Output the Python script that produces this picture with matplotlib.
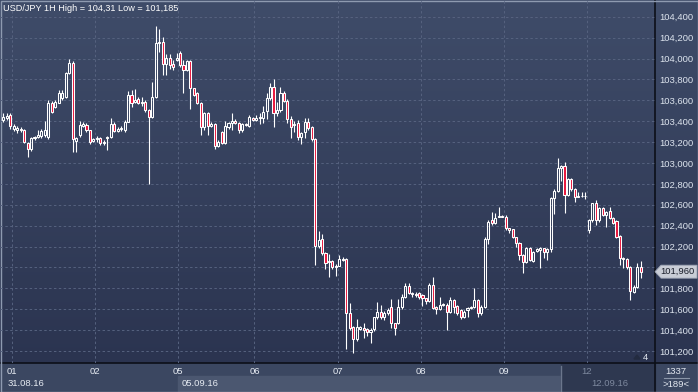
import numpy as np
import matplotlib
matplotlib.use("Agg")
import matplotlib.pyplot as plt
from matplotlib.colors import LinearSegmentedColormap
from matplotlib.patches import Rectangle, Polygon
from matplotlib.transforms import blended_transform_factory

plt.rcParams['font.family'] = ['Liberation Sans', 'DejaVu Sans']

# ---------------- data ----------------
symbol = "USD/JPY 1H"
day_labels = ["01", "02", "05", "06", "07", "08", "09", "12"]
day_bounds = [2.5, 26.5, 50.5, 72.5, 96.5, 120.5, 144.5, 168.5]   # bar index where each day starts
date_labels = ["31.08.16", "05.09.16", "12.09.16"]
price_ticks = [101.2, 101.4, 101.6, 101.8, 102.0, 102.2, 102.4, 102.6, 102.8,
               103.0, 103.2, 103.4, 103.6, 103.8, 104.0, 104.2, 104.4]
total_bars = 1337
visible_bars = 189
corner_count = "4"

opens = [
    103.411, 103.427, 103.459, 103.328, 103.315, 103.330, 103.315, 103.194, 103.130, 103.236,
    103.250, 103.258, 103.268, 103.245, 103.577, 103.539, 103.577, 103.619, 103.634, 103.858,
    103.960, 103.214, 103.268, 103.354, 103.363, 103.315, 103.213, 103.226, 103.236, 103.190,
    103.236, 103.245, 103.373, 103.309, 103.325, 103.315, 103.395, 103.650, 103.586, 103.609,
    103.570, 103.586, 103.507, 103.443, 103.634, 104.151, 104.161, 103.944, 104.008, 103.944,
    103.990, 104.055, 103.938, 103.890, 103.976, 103.714, 103.666, 103.570, 103.347, 103.475,
    103.354, 103.373, 103.162, 103.300, 103.194, 103.340, 103.380, 103.400, 103.385, 103.315,
    103.370, 103.354, 103.430, 103.410, 103.427, 103.427, 103.500, 103.619, 103.724, 103.482,
    103.507, 103.673, 103.597, 103.418, 103.360, 103.386, 103.252, 103.300, 103.396, 103.341,
    103.227, 102.206, 102.270, 102.136, 102.056, 102.062, 102.008, 102.018, 102.072, 102.078,
    101.568, 101.434, 101.313, 101.408, 101.418, 101.408, 101.386, 101.408, 101.523, 101.577,
    101.530, 101.568, 101.619, 101.466, 101.472, 101.619, 101.721, 101.823, 101.760, 101.750,
    101.753, 101.737, 101.705, 101.683, 101.833, 101.626, 101.600, 101.642, 101.642, 101.577,
    101.689, 101.632, 101.593, 101.530, 101.593, 101.609, 101.625, 101.689, 101.568, 101.625,
    102.270, 102.455, 102.430, 102.487, 102.493, 102.487, 102.375, 102.365, 102.288, 102.231,
    102.119, 102.055, 102.189, 102.065, 102.160, 102.167, 102.183, 102.151, 102.177, 102.661,
    102.732, 102.949, 102.971, 102.693, 102.843, 102.748, 102.677, 102.687, 102.680, 102.358,
    102.454, 102.614, 102.454, 102.566, 102.502, 102.540, 102.470, 102.448, 102.301, 102.087,
    102.078, 102.001, 101.768, 101.816, 102.001,
]
highs = [
    103.475, 103.481, 103.475, 103.370, 103.350, 103.345, 103.330, 103.200, 103.245, 103.260,
    103.315, 103.330, 103.405, 103.600, 103.590, 103.600, 103.700, 103.700, 103.870, 103.991,
    103.980, 103.250, 103.405, 103.390, 103.380, 103.320, 103.240, 103.260, 103.250, 103.220,
    103.260, 103.427, 103.390, 103.340, 103.350, 103.410, 103.690, 103.698, 103.705, 103.630,
    103.628, 103.600, 103.520, 103.778, 104.310, 104.279, 104.209, 104.040, 104.040, 103.990,
    104.050, 104.075, 103.985, 103.990, 103.990, 103.720, 103.680, 103.580, 103.490, 103.490,
    103.390, 103.380, 103.220, 103.310, 103.400, 103.390, 103.475, 103.420, 103.390, 103.380,
    103.385, 103.460, 103.440, 103.460, 103.475, 103.545, 103.667, 103.762, 103.800, 103.587,
    103.724, 103.690, 103.610, 103.450, 103.400, 103.412, 103.300, 103.427, 103.434, 103.350,
    103.235, 102.350, 102.320, 102.150, 102.126, 102.070, 102.030, 102.120, 102.104, 102.090,
    101.657, 101.440, 101.504, 101.440, 101.466, 101.420, 101.420, 101.530, 101.667, 101.640,
    101.580, 101.610, 101.695, 101.470, 101.695, 101.746, 101.848, 101.848, 101.770, 101.770,
    101.770, 101.750, 101.710, 101.850, 101.906, 101.630, 101.721, 101.660, 101.660, 101.721,
    101.700, 101.640, 101.600, 101.590, 101.620, 101.630, 101.800, 101.700, 101.640, 102.289,
    102.450, 102.534, 102.520, 102.576, 102.500, 102.500, 102.380, 102.370, 102.290, 102.240,
    102.130, 102.200, 102.200, 102.160, 102.190, 102.200, 102.190, 102.190, 102.670, 102.750,
    103.044, 102.980, 103.012, 102.860, 102.860, 102.760, 102.720, 102.720, 102.720, 102.460,
    102.620, 102.650, 102.580, 102.580, 102.540, 102.582, 102.480, 102.454, 102.310, 102.100,
    102.090, 102.010, 101.830, 102.046, 102.065,
]
lows = [
    103.395, 103.410, 103.330, 103.310, 103.290, 103.300, 103.190, 103.054, 103.118, 103.220,
    103.240, 103.240, 103.250, 103.230, 103.480, 103.530, 103.570, 103.600, 103.620, 103.850,
    103.110, 103.110, 103.250, 103.340, 103.300, 103.180, 103.200, 103.200, 103.170, 103.170,
    103.124, 103.240, 103.300, 103.300, 103.310, 103.300, 103.390, 103.532, 103.570, 103.560,
    103.545, 103.490, 102.795, 103.430, 103.620, 104.065, 103.842, 103.842, 103.900, 103.890,
    103.980, 103.920, 103.673, 103.880, 103.513, 103.640, 103.560, 103.268, 103.315, 103.268,
    103.340, 103.130, 103.150, 103.180, 103.180, 103.330, 103.315, 103.370, 103.283, 103.300,
    103.350, 103.345, 103.400, 103.400, 103.370, 103.380, 103.418, 103.600, 103.341, 103.450,
    103.490, 103.580, 103.380, 103.243, 103.300, 103.220, 103.182, 103.236, 103.320, 103.210,
    102.024, 102.190, 102.120, 101.982, 101.912, 101.990, 101.920, 102.010, 102.060, 101.217,
    101.400, 101.185, 101.300, 101.400, 101.322, 101.340, 101.274, 101.390, 101.510, 101.510,
    101.500, 101.550, 101.418, 101.350, 101.460, 101.600, 101.710, 101.750, 101.715, 101.715,
    101.700, 101.632, 101.650, 101.670, 101.600, 101.555, 101.590, 101.630, 101.400, 101.560,
    101.562, 101.550, 101.504, 101.520, 101.530, 101.600, 101.610, 101.530, 101.550, 101.610,
    102.225, 102.410, 102.420, 102.480, 102.480, 102.360, 102.330, 102.280, 102.200, 102.071,
    101.944, 102.040, 102.060, 102.050, 102.150, 101.992, 102.087, 102.071, 102.151, 102.508,
    102.720, 102.830, 102.518, 102.680, 102.730, 102.630, 102.670, 102.670, 102.660, 102.327,
    102.440, 102.406, 102.440, 102.490, 102.390, 102.460, 102.420, 102.280, 102.020, 101.992,
    101.990, 101.689, 101.753, 101.800, 101.896,
]
closes = [
    103.443, 103.449, 103.354, 103.354, 103.331, 103.315, 103.204, 103.130, 103.236, 103.245,
    103.268, 103.309, 103.315, 103.577, 103.491, 103.587, 103.666, 103.666, 103.864, 103.960,
    103.226, 103.236, 103.363, 103.373, 103.315, 103.204, 103.226, 103.236, 103.188, 103.200,
    103.245, 103.373, 103.309, 103.328, 103.330, 103.395, 103.650, 103.577, 103.602, 103.577,
    103.586, 103.507, 103.443, 103.628, 104.151, 104.161, 103.944, 104.008, 103.938, 103.921,
    104.008, 103.938, 103.890, 103.976, 103.714, 103.650, 103.570, 103.347, 103.475, 103.354,
    103.373, 103.162, 103.200, 103.194, 103.353, 103.385, 103.400, 103.385, 103.315, 103.370,
    103.360, 103.437, 103.410, 103.427, 103.443, 103.491, 103.619, 103.724, 103.475, 103.507,
    103.673, 103.597, 103.418, 103.348, 103.374, 103.252, 103.290, 103.396, 103.338, 103.227,
    102.206, 102.263, 102.136, 102.046, 102.066, 102.008, 102.018, 102.078, 102.078, 101.568,
    101.418, 101.313, 101.434, 101.427, 101.402, 101.386, 101.402, 101.523, 101.577, 101.530,
    101.568, 101.593, 101.466, 101.418, 101.619, 101.721, 101.823, 101.760, 101.746, 101.737,
    101.721, 101.705, 101.683, 101.830, 101.609, 101.600, 101.642, 101.650, 101.577, 101.689,
    101.625, 101.568, 101.523, 101.577, 101.609, 101.620, 101.689, 101.562, 101.625, 102.270,
    102.439, 102.423, 102.470, 102.493, 102.487, 102.375, 102.359, 102.295, 102.231, 102.119,
    102.055, 102.189, 102.071, 102.151, 102.177, 102.189, 102.151, 102.177, 102.661, 102.732,
    102.949, 102.971, 102.693, 102.843, 102.748, 102.677, 102.687, 102.680, 102.687, 102.454,
    102.614, 102.454, 102.566, 102.502, 102.534, 102.470, 102.429, 102.295, 102.087, 102.080,
    102.001, 101.778, 101.816, 102.001, 101.960,
]

# ---------------- figure ----------------
W, H = 698, 392
PLOT_R, PLOT_B = 655, 363
fig = plt.figure(figsize=(W / 100, H / 100), dpi=100)

bg = fig.add_axes([0, 0, 1, 1])
bg.set_xlim(0, W)
bg.set_ylim(H, 0)
bg.axis('off')
cmap = LinearSegmentedColormap.from_list('bg', ['#3f4c69', '#2b3450'])
bg.imshow(np.linspace(0, 1, 256).reshape(-1, 1), cmap=cmap,
          extent=[0, W, PLOT_B, 0], aspect='auto', zorder=0)
# bottom time strip
bg.add_patch(Rectangle((0, PLOT_B), W, H - PLOT_B, color='#3b4761', zorder=1))
bg.add_patch(Rectangle((178, 376), 383, H - 376, color='#4b5770', zorder=1))
bg.add_patch(Rectangle((561, PLOT_B), PLOT_R - 561, H - PLOT_B, color='#2e3850', zorder=2))
bg.plot([561, 561], [366, H], color='#6b768c', lw=1, zorder=3)
# separators
bg.plot([0, W], [PLOT_B, PLOT_B], color='#0c0f18', lw=1.2, zorder=4)
bg.plot([PLOT_R, PLOT_R], [0, H], color='#0c0f18', lw=1.2, zorder=4)
# corner box
bg.text(676, 371, str(total_bars), ha='center', va='center', fontsize=6.8, color='#e3e8f0', zorder=5)
bg.plot([664, 689], [377.5, 377.5], color='#8a95a8', lw=0.8, zorder=5)
bg.text(676, 384.5, f">{visible_bars}<", ha='center', va='center', fontsize=6.8, color='#e3e8f0', zorder=5)
# small count marker
bg.add_patch(Polygon([[634, 359], [640, 359], [637, 355]], closed=True, color='#232b40', zorder=5))
bg.text(645.5, 357, corner_count, ha='center', va='center', fontsize=6.8, color='#e3e8f0', zorder=5)
# outer frame
bg.add_patch(Rectangle((0.5, 0.5), W - 1, H - 1, fill=False, edgecolor='#8e9ab0', lw=1.0, zorder=6))

# ---------------- price axes ----------------
ax = fig.add_axes([0, (H - PLOT_B) / H, PLOT_R / W, PLOT_B / H])
ax.patch.set_alpha(0)
n = len(closes)
ax.set_xlim(-0.964, 188.12)
ax.set_ylim(101.086, 104.56)
for s in ax.spines.values():
    s.set_visible(False)

last = closes[-1]
ax.set_yticks(price_ticks)
# the label hidden behind the last-price tag is left blank
ax.set_yticklabels(["" if abs(v - last) < 0.1 else f"{v:,.3f}".replace('.', ',') for v in price_ticks])
ax.yaxis.tick_right()
ax.set_xticks(day_bounds)
ax.set_xticklabels(day_labels)
ax.tick_params(axis='y', length=0, pad=3, labelsize=6.8, labelcolor='#dde4ee')
ax.tick_params(axis='x', length=0, pad=3, labelsize=6.8, labelcolor='#e6ebf2')
ax.get_xticklabels()[-1].set_color('#7d889e')
ax.grid(True, color='#56627f', ls=(0, (2.5, 2.5)), lw=0.7)
ax.set_axisbelow(True)

x = np.arange(n)
o = np.array(opens); h = np.array(highs); l = np.array(lows); c = np.array(closes)
top = np.maximum(o, c)
bot = np.minimum(o, c)
ax.vlines(x, top, h, color='white', lw=0.8, zorder=3)
ax.vlines(x, l, bot, color='white', lw=0.8, zorder=3)
face = ['none' if cc >= oo else '#e8173d' for oo, cc in zip(opens, closes)]
ax.bar(x, np.maximum(top - bot, 0.006), bottom=bot, width=0.6,
       color=face, edgecolor='white', linewidth=0.75, zorder=4)

# date row labels (positioned from day boundaries)
tr = blended_transform_factory(ax.transData, bg.transData)
date_pos = [day_bounds[0] - 1.15, day_bounds[2] + 1.1, day_bounds[7] + 1.1]
date_cols = ['#e6ebf2', '#e6ebf2', '#7d889e']
for lab, xp, col in zip(date_labels, date_pos, date_cols):
    bg.text(xp, 383, lab, transform=tr, ha='left', va='center', fontsize=6.8, color=col, zorder=5)

# title
hi_txt = f"{max(highs):.2f}".replace('.', ',')
lo_txt = f"{min(lows):.3f}".replace('.', ',')
bg.text(3, 8, f"{symbol} High = {hi_txt} Low = {lo_txt}", ha='left', va='center',
        fontsize=6.6, color='white', zorder=5)

# last price tag
yr = (104.56 - 101.086) / PLOT_B
tb = blended_transform_factory(ax.transAxes, ax.transData)
hh = 6.5 * yr
x0 = 1.0
x1 = 1.0 + 6 / PLOT_R
x2 = 1.0 + 42 / PLOT_R
tag = Polygon([[x0, last], [x1, last + hh], [x2, last + hh], [x2, last - hh], [x1, last - hh]],
              closed=True, transform=tb, facecolor='#c9cdd6', edgecolor='#9aa2b2', lw=0.6,
              clip_on=False, zorder=10)
ax.add_patch(tag)
ax.text(1.0 + 5 / PLOT_R, last, f"{last:.3f}".replace('.', ','), transform=tb, ha='left', va='center',
        fontsize=6.8, color='#1a1e2a', clip_on=False, zorder=11)

fig.savefig('out.png', dpi=100)
